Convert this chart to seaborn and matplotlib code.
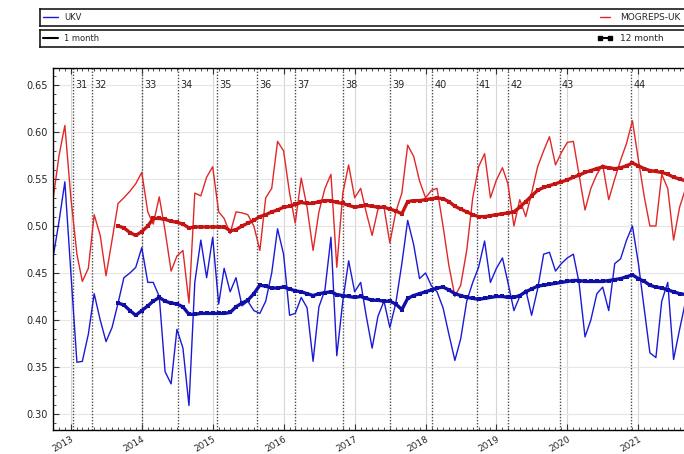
import pandas as pd
import seaborn as sns
import matplotlib.pyplot as plt
import matplotlib.dates as mdates
from matplotlib.lines import Line2D
from matplotlib.ticker import MultipleLocator, FormatStrFormatter

# monthly values, Oct 2012 .. Sep 2021
months = pd.date_range('2012-10-01', periods=108, freq='MS')

ukv_1m = [0.466, 0.505, 0.547, 0.450, 0.355, 0.356, 0.385, 0.428, 0.400, 0.377,
          0.392, 0.418, 0.445, 0.450, 0.456, 0.477, 0.440, 0.440, 0.425, 0.345,
          0.332, 0.390, 0.370, 0.309, 0.440, 0.485, 0.445, 0.488, 0.417, 0.455,
          0.430, 0.445, 0.415, 0.420, 0.410, 0.407, 0.420, 0.450, 0.497, 0.470,
          0.405, 0.407, 0.424, 0.413, 0.356, 0.414, 0.432, 0.488, 0.362, 0.420,
          0.463, 0.430, 0.440, 0.405, 0.370, 0.404, 0.420, 0.392, 0.418, 0.460,
          0.506, 0.480, 0.444, 0.450, 0.436, 0.430, 0.413, 0.385, 0.357, 0.380,
          0.420, 0.440, 0.456, 0.484, 0.440, 0.455, 0.466, 0.440, 0.410, 0.425,
          0.432, 0.405, 0.433, 0.470, 0.472, 0.452, 0.460, 0.466, 0.470, 0.440,
          0.382, 0.400, 0.428, 0.435, 0.410, 0.460, 0.465, 0.485, 0.500, 0.460,
          0.410, 0.365, 0.360, 0.420, 0.440, 0.358, 0.390, 0.420]

mog_1m = [0.528, 0.575, 0.607, 0.530, 0.470, 0.441, 0.455, 0.512, 0.490, 0.447,
          0.485, 0.524, 0.530, 0.537, 0.545, 0.557, 0.515, 0.502, 0.531, 0.495,
          0.452, 0.468, 0.474, 0.418, 0.535, 0.532, 0.552, 0.563, 0.515, 0.508,
          0.492, 0.515, 0.514, 0.512, 0.500, 0.474, 0.530, 0.540, 0.590, 0.580,
          0.535, 0.503, 0.551, 0.520, 0.474, 0.515, 0.540, 0.555, 0.456, 0.535,
          0.565, 0.530, 0.540, 0.515, 0.490, 0.518, 0.520, 0.482, 0.515, 0.535,
          0.586, 0.574, 0.548, 0.530, 0.538, 0.540, 0.500, 0.458, 0.425, 0.437,
          0.474, 0.530, 0.563, 0.577, 0.530, 0.549, 0.562, 0.545, 0.500, 0.528,
          0.510, 0.535, 0.563, 0.580, 0.595, 0.565, 0.578, 0.589, 0.590, 0.555,
          0.517, 0.540, 0.555, 0.565, 0.528, 0.550, 0.570, 0.588, 0.612, 0.570,
          0.530, 0.500, 0.500, 0.555, 0.540, 0.485, 0.520, 0.540]

# 12 month values, Sep 2013 .. Sep 2021
months_12 = months[11:]

ukv_12m = [0.418, 0.416, 0.410, 0.405, 0.410, 0.415, 0.420, 0.424, 0.420, 0.418,
           0.417, 0.414, 0.406, 0.406, 0.407, 0.407, 0.407, 0.407, 0.407, 0.408,
           0.414, 0.418, 0.421, 0.428, 0.437, 0.436, 0.434, 0.434, 0.435, 0.433,
           0.431, 0.430, 0.428, 0.426, 0.428, 0.429, 0.430, 0.427, 0.426, 0.425,
           0.424, 0.425, 0.423, 0.421, 0.421, 0.420, 0.420, 0.417, 0.411, 0.423,
           0.426, 0.428, 0.430, 0.432, 0.434, 0.435, 0.432, 0.428, 0.426, 0.424,
           0.423, 0.422, 0.423, 0.424, 0.425, 0.425, 0.424, 0.424, 0.426, 0.430,
           0.433, 0.436, 0.437, 0.438, 0.439, 0.440, 0.441, 0.442, 0.442, 0.441,
           0.441, 0.441, 0.441, 0.442, 0.443, 0.444, 0.446, 0.448, 0.444, 0.441,
           0.437, 0.435, 0.434, 0.432, 0.430, 0.428, 0.427]

mog_12m = [0.500, 0.498, 0.493, 0.490, 0.494, 0.500, 0.508, 0.508, 0.507, 0.505,
           0.504, 0.502, 0.498, 0.499, 0.499, 0.499, 0.499, 0.499, 0.499, 0.495,
           0.496, 0.500, 0.503, 0.506, 0.510, 0.512, 0.515, 0.517, 0.520, 0.521,
           0.523, 0.525, 0.524, 0.524, 0.526, 0.527, 0.527, 0.525, 0.524, 0.522,
           0.520, 0.521, 0.522, 0.521, 0.520, 0.520, 0.518, 0.516, 0.513, 0.526,
           0.527, 0.527, 0.528, 0.529, 0.530, 0.529, 0.526, 0.521, 0.518, 0.515,
           0.512, 0.510, 0.510, 0.511, 0.512, 0.513, 0.514, 0.515, 0.520, 0.526,
           0.532, 0.538, 0.541, 0.543, 0.545, 0.547, 0.549, 0.552, 0.554, 0.557,
           0.559, 0.561, 0.563, 0.562, 0.561, 0.562, 0.564, 0.567, 0.564, 0.561,
           0.559, 0.558, 0.557, 0.555, 0.552, 0.550, 0.548]

# model change markers
event_labels = ['31', '32', '33', '34', '35', '36', '37', '38', '39', '40',
                '41', '42', '43', '44']
event_dates = ['2013-01-11', '2013-04-22', '2014-01-01', '2014-07-04',
               '2015-01-21', '2015-08-19', '2016-02-27', '2016-11-01',
               '2017-07-01', '2018-02-03', '2018-09-21', '2019-03-01',
               '2019-11-22', '2020-11-25']

BLUE_1 = '#1a1ad6'
BLUE_12 = '#1010a8'
RED_1 = '#e02828'
RED_12 = '#c41414'

sns.set_style('ticks')
plt.rcParams['font.family'] = ['DejaVu Sans']

fig = plt.figure(figsize=(6.84, 4.54), dpi=100)
ax = fig.add_axes([0.0775, 0.053, 0.9547, 0.797])

ax.yaxis.grid(True, color='#e6e6e6', lw=0.8)
ax.xaxis.grid(True, which='major', color='#d6d6d6', lw=0.8)

for d, lab in zip(event_dates, event_labels):
    d = pd.Timestamp(d)
    ax.axvline(d, color='0.3', ls=(0, (1, 1.2)), lw=1.0, zorder=1)
    ax.text(d + pd.Timedelta(days=12), 0.65, lab, fontsize=7, va='center',
            ha='left', color='0.15')

sns.lineplot(x=months, y=mog_1m, color=RED_1, lw=1.0, ax=ax)
sns.lineplot(x=months, y=ukv_1m, color=BLUE_1, lw=1.0, ax=ax)
sns.lineplot(x=months_12, y=mog_12m, color=RED_12, lw=2.4, marker='s',
             markersize=2.6, markeredgewidth=0, ax=ax)
sns.lineplot(x=months_12, y=ukv_12m, color=BLUE_12, lw=2.4, marker='s',
             markersize=2.6, markeredgewidth=0, ax=ax)

ax.set_xlim(months[0], pd.Timestamp('2021-12-15'))
ax.set_ylim(0.283, 0.668)
ax.xaxis.set_major_locator(mdates.YearLocator())
ax.xaxis.set_minor_locator(mdates.MonthLocator())
ax.xaxis.set_major_formatter(mdates.DateFormatter('%Y'))
ax.yaxis.set_major_locator(MultipleLocator(0.05))
ax.yaxis.set_minor_locator(MultipleLocator(0.01))
ax.yaxis.set_major_formatter(FormatStrFormatter('%.2f'))
ax.tick_params(axis='both', which='both', direction='in', top=True,
               right=False, labelsize=7, color='0.2')
ax.tick_params(axis='both', which='major', length=4)
ax.tick_params(axis='both', which='minor', length=2)
ax.tick_params(axis='x', which='major', labelsize=6.5, pad=3)
plt.setp(ax.get_xticklabels(), rotation=30, ha='right', va='top',
         rotation_mode='anchor')
ax.set_xlabel('')
ax.set_ylabel('')
for s in ax.spines.values():
    s.set_color('black')
    s.set_linewidth(1.0)

# legend strips above the plot
strips = [
    (0.943, Line2D([], [], color=BLUE_1, lw=1), 'UKV',
     Line2D([], [], color=RED_1, lw=1), 'MOGREPS-UK'),
    (0.897, Line2D([], [], color='black', lw=1.5), '1 month',
     Line2D([], [], color='black', lw=1.5, marker='s', markersize=3),
     '12 month'),
]
for bottom, h_left, t_left, h_right, t_right in strips:
    lax = fig.add_axes([0.0585, bottom, 0.994, 0.037])
    lax.set_xticks([])
    lax.set_yticks([])
    for s in lax.spines.values():
        s.set_color('0.1')
        s.set_linewidth(1.2)
    leg = lax.legend(handles=[h_left], labels=[t_left], loc='center left',
                     bbox_to_anchor=(0.0, 0.5), frameon=False, fontsize=6,
                     handlelength=1.8, borderaxespad=0.1, borderpad=0.2)
    lax.add_artist(leg)
    lax.legend(handles=[h_right], labels=[t_right], loc='center left',
               bbox_to_anchor=(0.815, 0.5), frameon=False, fontsize=6.5,
               handlelength=1.8, numpoints=2, borderaxespad=0.1,
               borderpad=0.2)

fig.savefig('out.png', dpi=100)
